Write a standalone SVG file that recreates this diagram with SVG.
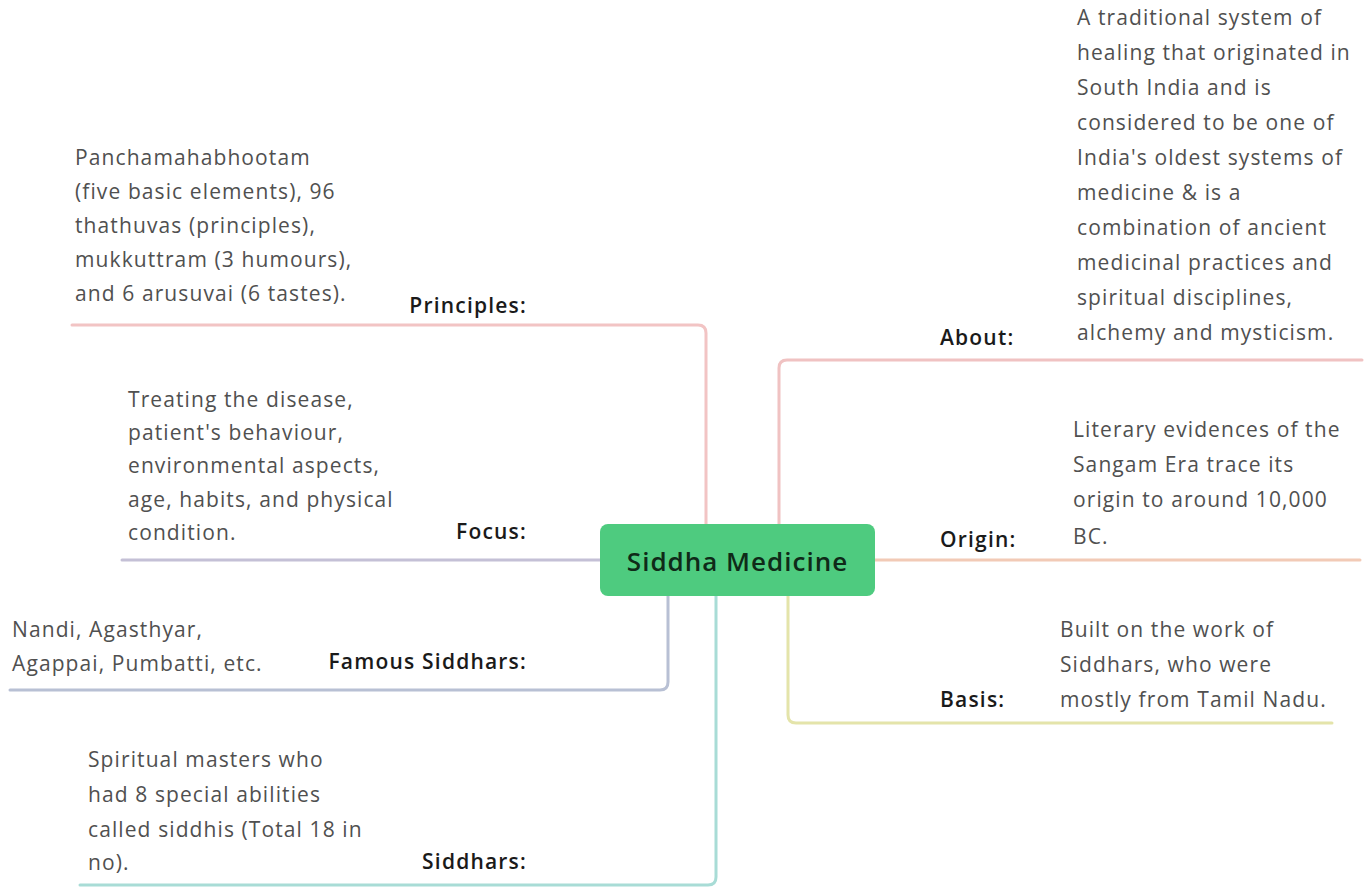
<svg xmlns="http://www.w3.org/2000/svg" width="1364" height="888" viewBox="0 0 1364 888">
<style>
.ln{fill:none;stroke-width:3;stroke-linecap:round}
.lab{font-family:"Open Sans",sans-serif;font-weight:600;font-size:21px;letter-spacing:1.2px;fill:#1a1a1a}
.txt{font-family:"Open Sans",sans-serif;font-size:21px;letter-spacing:1.1px;fill:#505050}
.r{text-anchor:end}
</style>
<rect width="1364" height="888" fill="#ffffff"/>
<g id="connectors">
<path class="ln" stroke="#f2c4c4" d="M72,325 H698 Q706,325 706,333 V524"/>
<path class="ln" stroke="#c4c0d6" d="M122,560 H600"/>
<path class="ln" stroke="#b8c0d4" d="M10,690 H660 Q668,690 668,682 V596"/>
<path class="ln" stroke="#a8dcd6" d="M80,885 H708 Q716,885 716,877 V596"/>
<path class="ln" stroke="#f0c2c2" d="M1362,360 H787 Q779,360 779,368 V524"/>
<path class="ln" stroke="#f2cab6" d="M875,560 H1360"/>
<path class="ln" stroke="#e4e4aa" d="M788,596 V715 Q788,723 796,723 H1332"/>
</g>
<g id="center">
<rect x="600" y="524" width="275" height="72" rx="8" fill="#4ecb7f"/>
<text x="737.5" y="571" text-anchor="middle" font-family="'Open Sans',sans-serif" font-weight="600" font-size="26" letter-spacing="1" fill="#0f2a18">Siddha Medicine</text>
</g>
<g id="principles">
<text class="lab r" x="527" y="313">Principles:</text>
<text class="txt"><tspan x="75" y="165">Panchamahabhootam</tspan><tspan x="75" y="199">(five basic elements), 96</tspan><tspan x="75" y="233">thathuvas (principles),</tspan><tspan x="75" y="267">mukkuttram (3 humours),</tspan><tspan x="75" y="301">and 6 arusuvai (6 tastes).</tspan></text>
</g>
<g id="focus">
<text class="lab r" x="527" y="539">Focus:</text>
<text class="txt"><tspan x="128" y="407">Treating the disease,</tspan><tspan x="128" y="440">patient's behaviour,</tspan><tspan x="128" y="473">environmental aspects,</tspan><tspan x="128" y="507">age, habits, and physical</tspan><tspan x="128" y="540">condition.</tspan></text>
</g>
<g id="famous">
<text class="lab r" x="527" y="669">Famous Siddhars:</text>
<text class="txt"><tspan x="12" y="637">Nandi, Agasthyar,</tspan><tspan x="12" y="671">Agappai, Pumbatti, etc.</tspan></text>
</g>
<g id="siddhars">
<text class="lab r" x="527" y="869">Siddhars:</text>
<text class="txt"><tspan x="88" y="767">Spiritual masters who</tspan><tspan x="88" y="802">had 8 special abilities</tspan><tspan x="88" y="837">called siddhis (Total 18 in</tspan><tspan x="88" y="870">no).</tspan></text>
</g>
<g id="about">
<text class="lab" x="940" y="345">About:</text>
<text class="txt"><tspan x="1077" y="25">A traditional system of</tspan><tspan x="1077" y="60">healing that originated in</tspan><tspan x="1077" y="95">South India and is</tspan><tspan x="1077" y="130">considered to be one of</tspan><tspan x="1077" y="165">India's oldest systems of</tspan><tspan x="1077" y="200">medicine &amp; is a</tspan><tspan x="1077" y="235">combination of ancient</tspan><tspan x="1077" y="270">medicinal practices and</tspan><tspan x="1077" y="305">spiritual disciplines,</tspan><tspan x="1077" y="340">alchemy and mysticism.</tspan></text>
</g>
<g id="origin">
<text class="lab" x="940" y="547">Origin:</text>
<text class="txt"><tspan x="1073" y="437">Literary evidences of the</tspan><tspan x="1073" y="472">Sangam Era trace its</tspan><tspan x="1073" y="507">origin to around 10,000</tspan><tspan x="1073" y="544">BC.</tspan></text>
</g>
<g id="basis">
<text class="lab" x="940" y="707">Basis:</text>
<text class="txt"><tspan x="1060" y="637">Built on the work of</tspan><tspan x="1060" y="672">Siddhars, who were</tspan><tspan x="1060" y="707">mostly from Tamil Nadu.</tspan></text>
</g>
</svg>
